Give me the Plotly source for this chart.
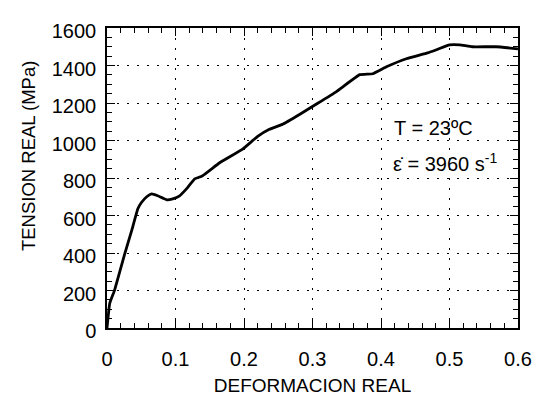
import plotly.graph_objects as go

strain = [0.0, 0.004, 0.011, 0.026, 0.036, 0.045, 0.050, 0.058, 0.065, 0.074, 0.087, 0.096,
          0.106, 0.116, 0.128, 0.139, 0.164, 0.198, 0.220, 0.237, 0.256, 0.281, 0.307,
          0.335, 0.369, 0.388, 0.408, 0.437, 0.468, 0.481, 0.500, 0.515, 0.533, 0.568, 0.600]
stress = [0, 132, 201, 397, 519, 636, 668, 700, 715, 705, 684, 689,
          705, 742, 795, 811, 880, 954, 1022, 1060, 1086, 1139, 1197,
          1261, 1351, 1356, 1393, 1436, 1467, 1484, 1510, 1510, 1500, 1500, 1489]

x_ticks = [0, 0.1, 0.2, 0.3, 0.4, 0.5, 0.6]
x_labels = ["0", "0.1", "0.2", "0.3", "0.4", "0.5", "0.6"]
y_ticks = [0, 200, 400, 600, 800, 1000, 1200, 1400, 1600]

fig = go.Figure()
fig.add_trace(go.Scatter(x=strain, y=stress, mode="lines",
                         line=dict(color="black", width=2.8, shape="spline", smoothing=0.3),
                         showlegend=False, hoverinfo="skip"))

FAM = "Liberation Sans, Arial, sans-serif"
font = dict(family=FAM, size=20, color="black")
tfont = dict(family=FAM, size=19, color="black")

common = dict(showline=True, linecolor="black", linewidth=1.5, mirror="allticks",
              ticks="inside", ticklen=8, tickwidth=1.2, tickcolor="black",
              showgrid=True, gridcolor="black", gridwidth=1, griddash="2px,8px",
              zeroline=False, tickfont=font)

fig.update_xaxes(range=[0, 0.6], tickvals=x_ticks, ticktext=x_labels,
                 minor=dict(ticks="inside", ticklen=5, dtick=0.02, tick0=0, tickcolor="black", showgrid=False),
                 title=dict(text="DEFORMACION REAL", font=tfont, standoff=10),
                 ticklabelstandoff=12, **common)
fig.update_yaxes(range=[0, 1600], tickvals=y_ticks,
                 minor=dict(ticks="inside", ticklen=5, dtick=50, tick0=0, tickcolor="black", showgrid=False),
                 ticklabelstandoff=5, ticklabelshift=3, **common)

# y-axis title placed as annotation (it sits above the axis centre in the reference)
fig.add_annotation(x=0, y=0.573, xref="paper", yref="paper", text="TENSION REAL (MPa)",
                   textangle=-90, showarrow=False, xanchor="center", yanchor="middle",
                   xshift=-79, font=dict(family=FAM, size=18.5, color="black"))

fig.add_annotation(x=0.416, y=1065, xref="x", yref="y", text="T = 23ºC", showarrow=False,
                   font=font, xanchor="left")
fig.add_annotation(x=0.414, y=885, xref="x", yref="y", text="ε̇ = 3960 s<sup>-1</sup>", showarrow=False,
                   font=font, xanchor="left")

# page body has an 8px margin, so offset figure margins accordingly
fig.update_layout(width=542, height=400, margin=dict(l=99, r=32, t=14, b=80),
                  paper_bgcolor="white", plot_bgcolor="white", font=font)

fig.write_html("out.html")
